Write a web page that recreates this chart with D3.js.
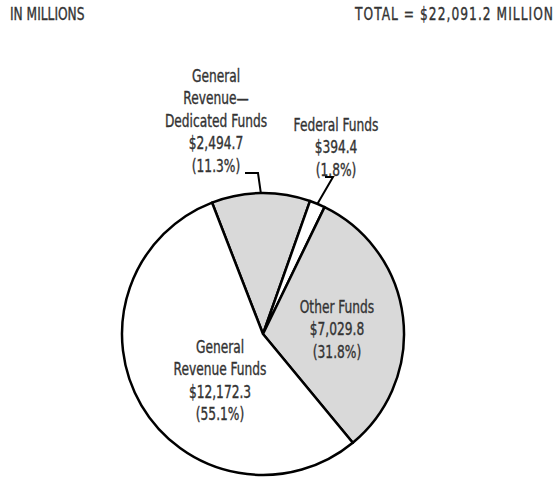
<!DOCTYPE html>
<html>
<head>
<meta charset="utf-8">
<script src="https://cdn.jsdelivr.net/npm/d3@7"></script>
<style>
  body { margin: 0; background: #fff; }
  text { font-family: "DejaVu Sans Condensed", "DejaVu Sans", sans-serif; font-stretch: condensed; fill: #333; stroke: #333; stroke-width: 0.35px; font-size: 17px; }
</style>
</head>
<body>
<script>
// data
var categories = ["General Revenue\u2014Dedicated Funds", "Federal Funds", "Other Funds", "General Revenue Funds"];
var amounts = [2494.7, 394.4, 7029.8, 12172.3];
var percents = ["11.3%", "1.8%", "31.8%", "55.1%"];
var totalLabel = "TOTAL = $22,091.2 MILLION";

var fills = ["#d9d9d9", "#ffffff", "#d9d9d9", "#ffffff"];

// svg container
var svgWidth = 554, svgHeight = 478;
var cx = 263, cy = 334, radius = 141;
var squeeze = 0.8;   // fake a condensed face

var svg = d3.select("body").append("svg")
    .attr("width", svgWidth)
    .attr("height", svgHeight);

svg.append("text")
    .attr("transform", `translate(10, 20) scale(${squeeze}, 1)`)
    .text("IN MILLIONS");
svg.append("text")
    .attr("transform", `translate(355, 20) scale(${squeeze}, 1)`)
    .attr("textLength", 198 / squeeze)
    .attr("lengthAdjust", "spacing")
    .text(totalLabel);

var data = categories.map((c, i) => ({name: c, value: amounts[i], pct: percents[i], fill: fills[i]}));

var startA = -21.2 * Math.PI / 180;
var pie = d3.pie().sort(null).value(d => d.value)
    .startAngle(startA).endAngle(startA + 2 * Math.PI);
var arcs = pie(data);
var arc = d3.arc().innerRadius(0).outerRadius(radius);

var g = svg.append("g").attr("transform", `translate(${cx}, ${cy})`);

g.selectAll("path").data(arcs).enter().append("path")
    .attr("d", arc)
    .attr("fill", d => d.data.fill)
    .attr("stroke", "#000")
    .attr("stroke-width", 2.5)
    .attr("stroke-linejoin", "round");

var fmt = d3.format(",.1f");

function label(x, y, lines) {
  var t = svg.append("text")
      .attr("text-anchor", "middle")
      .attr("transform", `translate(${x}, ${y}) scale(${squeeze}, 1)`);
  lines.forEach((l, i) => {
    t.append("tspan").attr("x", 0).attr("y", i * 22.5).text(l);
  });
}

function edgePoint(a) {
  var m = (a.startAngle + a.endAngle) / 2;
  return [cx + radius * Math.sin(m), cy - radius * Math.cos(m)];
}

// outside labels with leader lines
label(216, 82, ["General", "Revenue\u2014", "Dedicated Funds", "$" + fmt(amounts[0]), "(" + percents[0] + ")"]);
var p0 = edgePoint(arcs[0]);
svg.append("polyline")
    .attr("points", [[245, 173], [258, 173], p0].map(p => p.join(",")).join(" "))
    .attr("fill", "none").attr("stroke", "#000").attr("stroke-width", 2);

label(336, 131, ["Federal Funds", "$" + fmt(amounts[1]), "(" + percents[1] + ")"]);
var p1 = edgePoint(arcs[1]);
svg.append("polyline")
    .attr("points", [[325, 177], [333, 177], p1].map(p => p.join(",")).join(" "))
    .attr("fill", "none").attr("stroke", "#000").attr("stroke-width", 2);

// inside labels
label(337, 313, ["Other Funds", "$" + fmt(amounts[2]), "(" + percents[2] + ")"]);
label(220, 353, ["General", "Revenue Funds", "$" + fmt(amounts[3]), "(" + percents[3] + ")"]);
</script>
</body>
</html>
